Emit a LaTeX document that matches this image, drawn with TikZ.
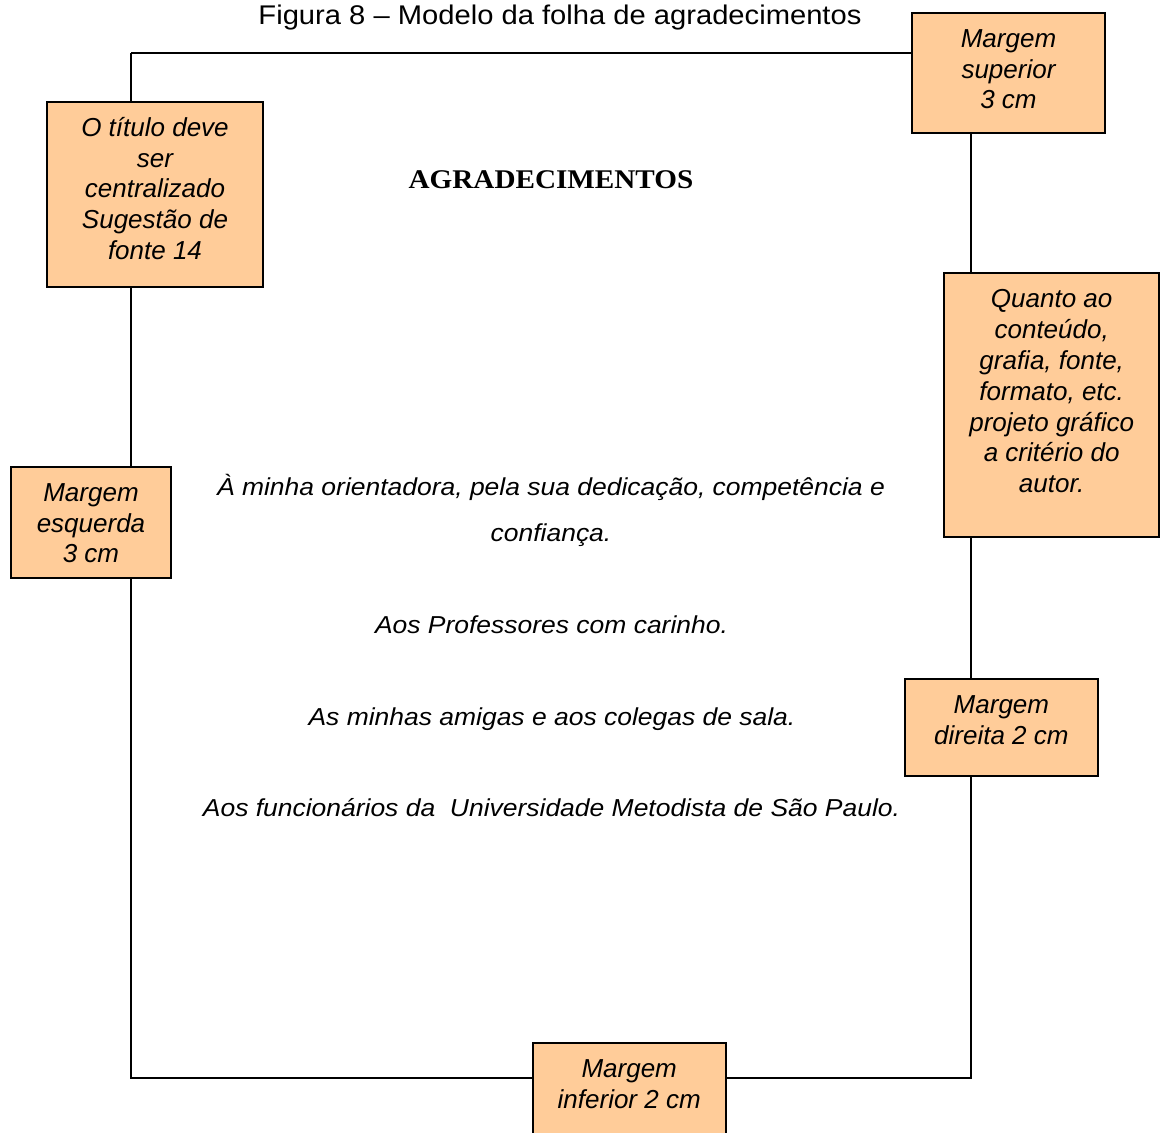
\documentclass[tikz,border=0pt]{standalone}
\usepackage{fontspec}
\setmainfont{Liberation Sans}
\newfontfamily\notefont{Liberation Sans}
\newfontfamily\bodyfont[FakeStretch=1.08]{Liberation Sans}
\newfontfamily\headfont[FakeStretch=1.08]{Liberation Serif}
\definecolor{boxfill}{RGB}{255,204,153}
\newcommand{\nb}[3]{\parbox[c][#2pt][t]{#1pt}{\vspace*{13pt}\centering\strut #3}}
\tikzset{
  note/.style={draw=black, line width=1.8pt, fill=boxfill, inner sep=0pt,
    font=\notefont\itshape\fontsize{26}{30.8}\selectfont},
  frameline/.style={draw=black, line width=1.8pt},
  bodytext/.style={anchor=base, inner sep=0pt, font=\bodyfont\itshape\fontsize{24.5}{30}\selectfont},
  headtext/.style={anchor=base, inner sep=0pt, font=\headfont\bfseries\fontsize{27}{32}\selectfont},
  captext/.style={anchor=base, inner sep=0pt, font=\bodyfont\fontsize{27}{32}\selectfont}
}
\begin{document}
\begin{tikzpicture}[x=1pt, y=-1pt]
\useasboundingbox (0,0) rectangle (1160,1133);
\clip (0,0) rectangle (1160,1133);
\fill[white] (0,0) rectangle (1160,1133);

\coordinate (tl) at (131,53);
\coordinate (tr) at (971,53);
\coordinate (bl) at (131,1078);
\coordinate (br) at (971,1078);

\node[note] (tit) at (155,194.5) {\nb{216.6}{185.6}{O título deve\\ser\\centralizado\\Sugestão de\\fonte 14}};
\node[note] (sup) at (1008.5,72.7) {\nb{193}{120}{Margem\\superior\\3 cm}};
\node[note] (qto) at (1051.7,405.3) {\nb{214.7}{264}{Quanto ao\\conteúdo,\\grafia, fonte,\\formato, etc.\\projeto gráfico\\a critério do\\autor.}};
\node[note] (esq) at (91,522.2) {\nb{160}{111}{Margem\\esquerda\\3 cm}};
\node[note] (dir) at (1001.4,727.5) {\nb{192.7}{96.4}{Margem\\direita 2 cm}};
\node[note] (inf) at (629.2,1097.7) {\nb{193}{110}{Margem\\inferior 2 cm}};

\draw[frameline] (tl) -- (sup.west |- tl);
\draw[frameline] (tl) -- (tl |- tit.north);
\draw[frameline] (tl |- tit.south) -- (tl |- esq.north);
\draw[frameline] (tl |- esq.south) -- (bl) -- (inf.west |- bl);
\draw[frameline] (inf.east |- br) -- (br) -- (br |- dir.south);
\draw[frameline] (br |- dir.north) -- (br |- qto.south);
\draw[frameline] (br |- qto.north) -- (br |- sup.south);

\node[captext] (cap) at (560,24) {Figura 8 – Modelo da folha de agradecimentos};
\node[headtext] (head) at (551,188.3) {AGRADECIMENTOS};
\node[bodytext] (l1) at (551,495) {À minha orientadora, pela sua dedicação, competência e};
\node[bodytext] (l2) at (551,541.7) {confiança.};
\node[bodytext] (l3) at (551.5,633.3) {Aos Professores com carinho.};
\node[bodytext] (l4) at (552,725) {As minhas amigas e aos colegas de sala.};
\node[bodytext] (l5) at (551.5,816.7) {Aos funcionários da\ \ Universidade Metodista de São Paulo.};
\end{tikzpicture}
\end{document}
